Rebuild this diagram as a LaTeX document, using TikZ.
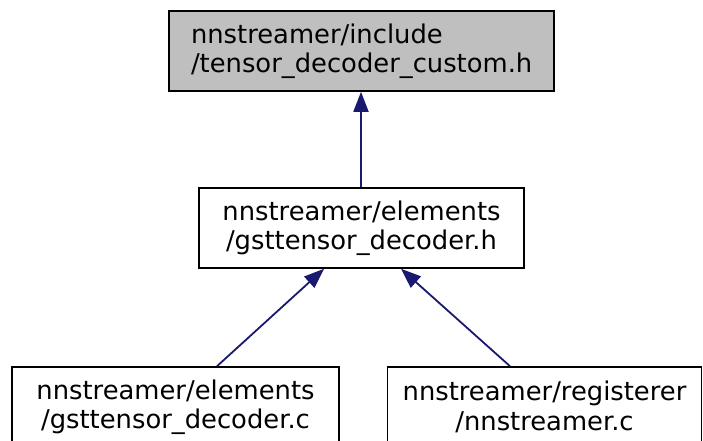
\documentclass[tikz,border=0pt]{standalone}
\usepackage{fontspec}
\setmainfont{DejaVu Sans}
\usetikzlibrary{arrows.meta}
\definecolor{edgeblue}{HTML}{191970}
\definecolor{boxgray}{HTML}{BFBFBF}
\begin{document}
\begin{tikzpicture}[x=1pt,y=-1pt,
  box/.style={draw=black,line width=1.6pt,rectangle,inner sep=0pt,minimum height=80pt,
    font=\fontsize{25.8}{29.5}\selectfont},
  edge/.style={draw=edgeblue,line width=1.8pt,-{Triangle[length=20pt,width=15pt]}}]
\useasboundingbox (0,0) rectangle (703,441);
\clip (0,0) rectangle (703,441);
\node[box,fill=boxgray,minimum width=385pt,text width=341pt,align=left] (top) at (361.5,51)
  {nnstreamer/include\\/tensor\_decoder\_custom.h};
\node[box,minimum width=325pt,align=center] (mid) at (361.5,228)
  {nnstreamer/elements\\/gsttensor\_decoder.h};
\node[box,minimum width=327pt,align=center] (bl) at (175.5,407)
  {nnstreamer/elements\\/gsttensor\_decoder.c};
\node[box,minimum width=314pt,align=center] (br) at (544.5,407)
  {nnstreamer/registerer\\/nnstreamer.c};
\draw[edge] ([xshift=-0.5pt]mid.north) -- ([xshift=-0.5pt]top.south);
\draw[edge] ([xshift=41.5pt]bl.north) -- ([xshift=-37.5pt]mid.south);
\draw[edge] ([xshift=-34.5pt]br.north) -- ([xshift=39.5pt]mid.south);
\end{tikzpicture}
\end{document}
